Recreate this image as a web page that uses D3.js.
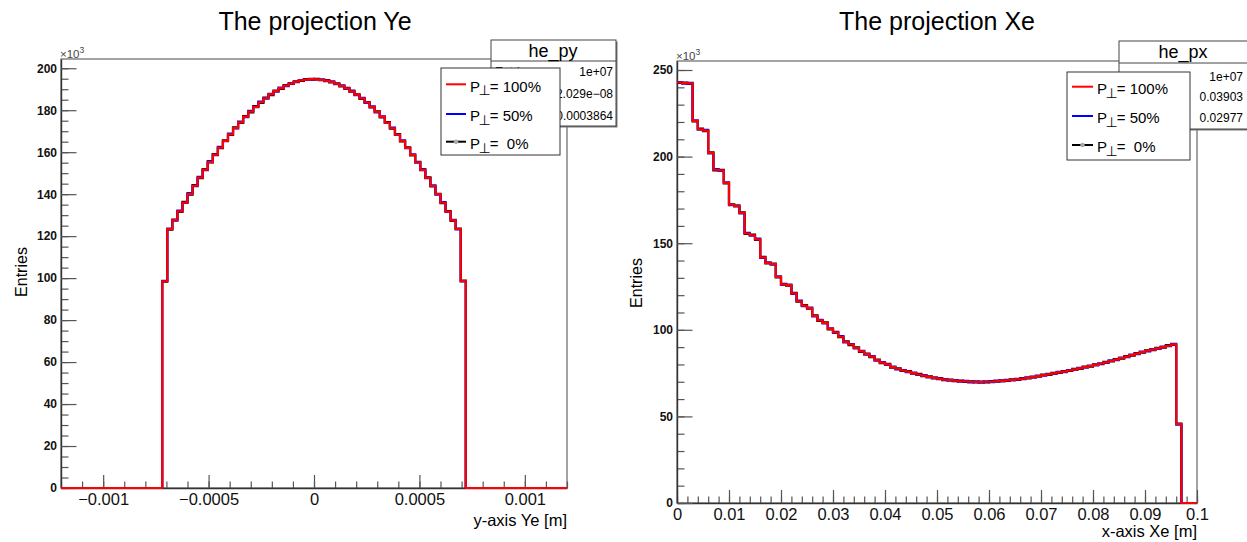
<!DOCTYPE html>
<html>
<head>
<meta charset="utf-8">
<script src="https://cdn.jsdelivr.net/npm/d3@7"></script>
<style>
body { margin: 0; background: #fff; }
text { font-family: "Liberation Sans", Arial, Helvetica, sans-serif; }
</style>
</head>
<body>
<svg id="svg" width="1247" height="542"></svg>
<script>
// Two ROOT-style histograms, 100 bins each. Values in units of 10^3 entries.
var nBins = 100;
var yeRange = [-0.0012, 0.0012];
var xeRange = [0, 0.1];

var ye100 = [0,0,0,0,0,0,0,0,0,0, 0,0,0,0,0,0,0,0,0,0,
	98.5, 123.3, 127.6, 131.8, 136.0, 140.1, 144.0, 147.9, 151.7, 155.3,
	158.8, 162.2, 165.4, 168.5, 171.5, 174.2, 176.9, 179.3, 181.6, 183.8,
	185.7, 187.5, 189.1, 190.5, 191.7, 192.7, 193.6, 194.2, 194.6, 194.8,
	194.7, 194.5, 194.1, 193.5, 192.6, 191.6, 190.4, 189.0, 187.4, 185.6,
	183.7, 181.5, 179.2, 176.8, 174.1, 171.4, 168.4, 165.3, 162.1, 158.7,
	155.2, 151.6, 147.8, 143.9, 140.0, 135.9, 131.7, 127.5, 123.4, 98.6,
	0,0,0,0,0,0,0,0,0,0, 0,0,0,0,0,0,0,0,0,0];

var ye50 = [0,0,0,0,0,0,0,0,0,0, 0,0,0,0,0,0,0,0,0,0,
	98.7, 123.6, 127.4, 132.2, 135.8, 140.5, 143.8, 148.3, 151.5, 155.7,
	158.6, 162.6, 165.2, 168.9, 171.3, 174.6, 176.7, 179.7, 181.4, 184.1,
	185.5, 187.8, 188.9, 190.8, 191.5, 192.9, 193.4, 194.4, 194.5, 194.9,
	194.6, 194.7, 193.9, 193.8, 192.4, 191.9, 190.2, 189.3, 187.2, 185.9,
	183.5, 181.8, 179.0, 177.1, 173.9, 171.7, 168.2, 165.6, 161.9, 159.0,
	155.0, 151.9, 147.6, 144.2, 139.8, 136.2, 131.5, 127.8, 123.2, 98.4,
	0,0,0,0,0,0,0,0,0,0, 0,0,0,0,0,0,0,0,0,0];

var ye0 = [0,0,0,0,0,0,0,0,0,0, 0,0,0,0,0,0,0,0,0,0,
	98.3, 123.1, 127.9, 131.6, 136.3, 139.8, 144.3, 147.6, 152.0, 155.1,
	159.1, 161.9, 165.7, 168.2, 171.8, 173.9, 177.2, 179.0, 181.9, 183.5,
	186.0, 187.2, 189.4, 190.2, 192.0, 192.5, 193.8, 194.0, 194.8, 194.6,
	194.9, 194.3, 194.3, 193.3, 192.8, 191.4, 190.6, 188.8, 187.6, 185.4,
	183.9, 181.3, 179.4, 176.6, 174.3, 171.2, 168.6, 165.1, 162.3, 158.5,
	155.4, 151.4, 148.0, 143.7, 140.2, 135.7, 131.9, 127.3, 123.6, 98.8,
	0,0,0,0,0,0,0,0,0,0, 0,0,0,0,0,0,0,0,0,0];

var xe100 = [242.8, 242.4, 242.3, 220.6, 215.8, 215.0, 202.1, 192.4, 192.0, 184.8,
	172.2, 171.5, 167.5, 155.6, 154.6, 152.2, 141.8, 138.7, 137.9, 130.6,
	126.2, 125.8, 121.0, 116.5, 114.0, 112.5, 108.0, 105.5, 104.0, 100.5,
	98.5, 96.0, 93.0, 91.5, 89.5, 87.5, 86.0, 84.5, 82.5, 81.0,
	80.0, 78.5, 77.5, 76.5, 75.8, 75.0, 74.2, 73.5, 72.8, 72.3,
	71.8, 71.2, 71.0, 70.6, 70.3, 70.2, 70.0, 69.9, 69.8, 70.0,
	70.1, 70.3, 70.5, 70.8, 71.1, 71.4, 71.8, 72.2, 72.7, 73.2,
	73.8, 74.3, 74.9, 75.4, 75.9, 76.5, 77.1, 77.7, 78.4, 79.0,
	79.7, 80.4, 81.2, 82.0, 82.8, 83.7, 84.5, 85.4, 86.3, 87.1,
	87.9, 88.6, 89.3, 90.0, 90.8, 91.6, 45.6, 0, 0, 0];

var xe50 = [243.0, 242.1, 242.6, 221.0, 215.5, 215.4, 201.8, 192.8, 191.7, 185.1,
	171.9, 171.9, 167.2, 156.0, 154.3, 152.6, 141.5, 139.0, 137.6, 130.9,
	125.9, 126.1, 120.7, 116.8, 113.7, 112.8, 107.7, 105.8, 103.7, 100.8,
	98.2, 96.3, 92.7, 91.8, 89.2, 87.8, 85.7, 84.8, 82.2, 81.3,
	79.7, 78.8, 77.2, 76.8, 75.5, 75.3, 73.9, 73.8, 72.5, 72.6,
	71.5, 71.5, 70.7, 70.9, 70.0, 70.5, 69.7, 70.2, 69.5, 70.3,
	69.8, 70.6, 70.2, 71.1, 70.8, 71.7, 71.5, 72.5, 72.4, 73.5,
	73.5, 74.6, 74.6, 75.7, 75.6, 76.8, 76.8, 78.0, 78.1, 79.3,
	79.4, 80.7, 80.9, 82.3, 82.5, 84.0, 84.2, 85.7, 86.0, 87.4,
	87.6, 88.9, 89.0, 90.3, 90.5, 91.9, 45.3, 0, 0, 0];

var xe0 = [242.5, 242.7, 242.0, 220.3, 216.1, 214.7, 202.4, 192.1, 192.3, 184.5,
	172.5, 171.2, 167.8, 155.3, 154.9, 151.9, 142.1, 138.4, 138.2, 130.3,
	126.5, 125.5, 121.3, 116.2, 114.3, 112.2, 108.3, 105.2, 104.3, 100.2,
	98.8, 95.7, 93.3, 91.2, 89.8, 87.2, 86.3, 84.2, 82.8, 80.7,
	80.3, 78.2, 77.8, 76.2, 76.1, 74.7, 74.5, 73.2, 73.1, 72.0,
	72.1, 70.9, 71.3, 70.3, 70.6, 69.9, 70.3, 69.6, 70.1, 69.7,
	70.4, 70.0, 70.8, 70.5, 71.4, 71.1, 72.1, 71.9, 73.0, 72.9,
	74.1, 74.0, 75.2, 75.1, 76.2, 76.2, 77.4, 77.4, 78.7, 78.7,
	80.0, 80.1, 81.5, 81.7, 83.1, 83.4, 84.8, 85.1, 86.6, 86.8,
	88.2, 88.3, 89.6, 89.7, 91.1, 91.3, 45.9, 0, 0, 0];

var yeXTicks = [-0.001, -0.0005, 0, 0.0005, 0.001];
var yeXLabels = ["\u22120.001", "\u22120.0005", "0", "0.0005", "0.001"];
var yeYTicks = [0, 20, 40, 60, 80, 100, 120, 140, 160, 180, 200];
var xeXTicks = [0, 0.01, 0.02, 0.03, 0.04, 0.05, 0.06, 0.07, 0.08, 0.09, 0.1];
var xeXLabels = ["0", "0.01", "0.02", "0.03", "0.04", "0.05", "0.06", "0.07", "0.08", "0.09", "0.1"];
var xeYTicks = [0, 50, 100, 150, 200, 250];

var legendLabels = ["= 100%", "= 50%", "=  0%"];
var seriesColors = ["#ff0000", "#0000ff", "#000000"];
var statNames = ["Entries", "Mean", "Std Dev"];
var pyStats = ["1e+07", "\u22122.029e\u221208", "0.0003864"];
var pxStats = ["1e+07", "0.03903", "0.02977"];

var svg = d3.select('#svg');

function drawPanel(p){
	var g = svg.append('g');
	var x = d3.scaleLinear().domain(p.xDomain).range([p.left, p.right]);
	var y = d3.scaleLinear().domain(p.yDomain).range([p.bottom, p.top]);

	// title
	g.append('text')
		.attr('x', p.titleX).attr('y', 30)
		.attr('text-anchor', 'middle')
		.style('font-size', '25px')
		.text(p.title);

	// frame
	g.append('rect')
		.attr('x', p.left).attr('y', p.top)
		.attr('width', p.right - p.left).attr('height', p.bottom - p.top)
		.attr('fill', 'none').attr('stroke', '#666').attr('stroke-width', 1.2);

	// minor ticks
	g.append('g')
		.attr('transform', 'translate(0,' + p.bottom + ')')
		.call(d3.axisBottom(x).tickValues(p.xMinor).tickSize(-6.5).tickSizeOuter(0).tickFormat(''))
		.call(function(a){ a.select('.domain').remove(); });
	g.append('g')
		.attr('transform', 'translate(' + p.left + ',0)')
		.call(d3.axisLeft(y).tickValues(p.yMinor).tickSize(-7.5).tickSizeOuter(0).tickFormat(''))
		.call(function(a){ a.select('.domain').remove(); });

	// major ticks with labels
	var xAxis = g.append('g')
		.attr('transform', 'translate(0,' + p.bottom + ')')
		.call(d3.axisBottom(x).tickValues(p.xTicks).tickSize(-13).tickSizeOuter(0).tickPadding(5.5)
			.tickFormat(function(d, i){ return p.xLabels[i]; }));
	xAxis.selectAll('text').style('font-size', '16.5px').attr('fill', '#111');

	var yAxis = g.append('g')
		.attr('transform', 'translate(' + p.left + ',0)')
		.call(d3.axisLeft(y).tickValues(p.yTicks).tickSize(-15.5).tickSizeOuter(0).tickPadding(4)
			.tickFormat(function(d){ return d; }));
	yAxis.selectAll('text').style('font-size', '12px').style('font-weight', 'bold').attr('fill', '#111');

	g.selectAll('.tick line').attr('stroke', '#555').attr('stroke-width', 1.2);
	g.selectAll('.domain').attr('stroke', '#333').attr('stroke-width', 1.4);

	// x10^3 marker
	var ex = g.append('text')
		.attr('x', p.left - 1).attr('y', p.top - 1.5)
		.attr('fill', '#444')
		.style('font-size', '11.5px')
		.text('\u00d710');
	ex.append('tspan').attr('dy', -4.5).style('font-size', '8.5px').text('3');

	// axis titles
	g.append('text')
		.attr('x', p.right).attr('y', p.xTitleY)
		.attr('text-anchor', 'end')
		.style('font-size', '16.5px')
		.text(p.xTitle);
	g.append('text')
		.attr('transform', 'translate(' + p.yTitleX + ',' + p.yTitleMid + ') rotate(-90)')
		.attr('text-anchor', 'middle')
		.style('font-size', '16px')
		.text('Entries');

	// histograms: 0% below, 100% on top
	var width = (p.xDomain[1] - p.xDomain[0]) / nBins;
	var line = d3.line()
		.x(function(d){ return x(d[0]); })
		.y(function(d){ return y(d[1]); })
		.curve(d3.curveStepAfter);

	[2, 1, 0].forEach(function(k){
		var vals = p.series[k];
		var pts = vals.map(function(v, i){ return [p.xDomain[0] + i * width, v]; });
		pts.push([p.xDomain[1], vals[vals.length - 1]]);
		g.append('path')
			.attr('d', line(pts))
			.attr('fill', 'none')
			.attr('stroke', seriesColors[k])
			.attr('stroke-width', 2.2);
	});

	// stats box (partly covered by the legend, as in ROOT)
	var s = p.stats;
	g.append('rect')
		.attr('x', s.x + 1.5).attr('y', s.y + 1.5).attr('width', s.w).attr('height', s.h)
		.attr('fill', '#777');
	g.append('rect')
		.attr('x', s.x).attr('y', s.y).attr('width', s.w).attr('height', s.h)
		.attr('fill', '#fff').attr('stroke', '#444').attr('stroke-width', 1);
	g.append('line')
		.attr('x1', s.x).attr('x2', s.x + s.w).attr('y1', s.sep).attr('y2', s.sep)
		.attr('stroke', '#444');
	g.append('text')
		.attr('x', s.titleX).attr('y', s.y + 17)
		.attr('text-anchor', 'middle')
		.style('font-size', '18px')
		.text(s.name);
	statNames.forEach(function(n, i){
		g.append('text')
			.attr('x', s.x + 4).attr('y', s.rows[i])
			.style('font-size', '12px')
			.text(n);
		g.append('text')
			.attr('x', s.valX).attr('y', s.rows[i])
			.attr('text-anchor', 'end')
			.style('font-size', '12px')
			.text(p.statValues[i]);
	});

	// legend
	var L = p.legend;
	g.append('rect')
		.attr('x', L.x).attr('y', L.y).attr('width', L.w).attr('height', L.h)
		.attr('fill', '#fff').attr('stroke', '#333').attr('stroke-width', 1);
	legendLabels.forEach(function(lab, i){
		var ly = L.rows[i];
		g.append('line')
			.attr('x1', L.lineX0).attr('x2', L.lineX1).attr('y1', ly).attr('y2', ly)
			.attr('stroke', seriesColors[i]).attr('stroke-width', 2);
		if (i === 2){
			g.append('circle')
				.attr('cx', (L.lineX0 + L.lineX1) / 2).attr('cy', ly).attr('r', 2.3)
				.attr('fill', '#aaa');
		}
		var t = g.append('text')
			.attr('x', L.textX).attr('y', ly + 7.4)
			.style('font-size', '15px')
			.style('white-space', 'pre')
			.text('P');
		t.append('tspan')
			.attr('dy', 3.5).attr('dx', -1.5)
			.style('font-family', '"DejaVu Sans", sans-serif')
			.style('font-size', '14px')
			.text('\u22a5');
		t.append('tspan')
			.attr('dy', -3.5).attr('dx', -1)
			.text(lab);
	});
}

drawPanel({
	title: 'The projection Ye', titleX: 315,
	left: 61, right: 567, top: 59, bottom: 488,
	xDomain: yeRange, yDomain: [0, 204.4],
	xTicks: yeXTicks, xLabels: yeXLabels,
	xMinor: d3.range(-12, 13).map(function(i){ return i * 0.0001; }),
	yTicks: yeYTicks,
	yMinor: d3.range(0, 41).map(function(i){ return i * 5; }),
	xTitle: 'y-axis Ye [m]', xTitleY: 526,
	yTitleX: 27, yTitleMid: 272,
	series: [ye100, ye50, ye0],
	stats: { x: 491, y: 40, w: 125, h: 86, sep: 61, titleX: 553, valX: 613, name: 'he_py', rows: [76, 98, 119.5] },
	statValues: pyStats,
	legend: { x: 441, y: 68, w: 119, h: 87, rows: [84.3, 114, 141.7], lineX0: 446, lineX1: 466, textX: 470 }
});

drawPanel({
	title: 'The projection Xe', titleX: 937,
	left: 677, right: 1197, top: 61, bottom: 503,
	xDomain: xeRange, yDomain: [0, 255.2],
	xTicks: xeXTicks, xLabels: xeXLabels,
	xMinor: d3.range(0, 51).map(function(i){ return i * 0.002; }),
	yTicks: xeYTicks,
	yMinor: d3.range(0, 26).map(function(i){ return i * 10; }),
	xTitle: 'x-axis Xe [m]', xTitleY: 537,
	yTitleX: 642, yTitleMid: 283,
	series: [xe100, xe50, xe0],
	stats: { x: 1119, y: 41, w: 140, h: 88, sep: 63, titleX: 1183, valX: 1243, name: 'he_px', rows: [80.5, 101, 122] },
	statValues: pxStats,
	legend: { x: 1067, y: 72, w: 123, h: 88, rows: [86.7, 116, 145], lineX0: 1072, lineX1: 1093, textX: 1097 }
});
</script>
</body>
</html>
